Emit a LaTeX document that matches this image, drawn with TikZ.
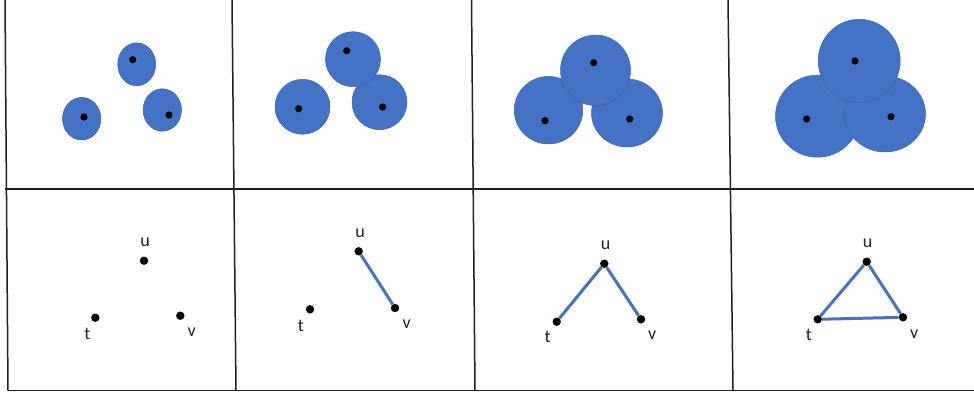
\documentclass[tikz,border=0pt]{standalone}
\usepackage{fontspec}
\setmainfont{Carlito}
\usetikzlibrary{shapes.geometric}
\definecolor{blob}{HTML}{4472C4}
\definecolor{blobedge}{HTML}{3A62AA}
\definecolor{gridc}{HTML}{1E1E1E}
\tikzset{
  disc/.style={ellipse, fill=blob, draw=blobedge, line width=0.5pt, inner sep=0pt},
  sdot/.style={circle, fill=black, inner sep=0pt, minimum size=7.2pt},
  gdot/.style={circle, fill=black, inner sep=0pt, minimum size=8.4pt},
  lbl/.style={font=\fontsize{18}{20}\selectfont, text=black!88, inner sep=0pt},
  gedge/.style={draw=blob, line width=3pt},
  gridline/.style={draw=gridc, line width=1.5pt}
}
\begin{document}
\begin{tikzpicture}[x=1pt,y=-1pt]
\useasboundingbox (0,0) rectangle (974,393);
% grid
\coordinate (v1a) at (5,0);     \coordinate (v1b) at (8,390.5);
\coordinate (v2a) at (232,0);   \coordinate (v2b) at (236,390.5);
\coordinate (v3a) at (471.5,0); \coordinate (v3b) at (475,390.5);
\coordinate (v4a) at (728,0);   \coordinate (v4b) at (733,390.5);
\coordinate (h1a) at (5,189);   \coordinate (h1b) at (974,189);
\coordinate (h2a) at (8,390.5); \coordinate (h2b) at (974,390.5);
\draw[gridline] (v1a) -- (v1b);
\draw[gridline] (v2a) -- (v2b);
\draw[gridline] (v3a) -- (v3b);
\draw[gridline] (v4a) -- (v4b);
\draw[gridline] (h1a) -- (h1b);
\draw[gridline] (h2a) -- (h2b);

% panel 1 top
\node[disc, minimum width=38pt, minimum height=43pt] (p1a) at (136.7,64.3) {};
\node[disc, minimum width=38.4pt, minimum height=42.6pt] (p1b) at (81.7,118.7) {};
\node[disc, minimum width=38.4pt, minimum height=42.4pt] (p1c) at (162.3,110) {};
\node[sdot] (d1a) at (132.7,59.7) {};
\node[sdot] (d1b) at (84,117) {};
\node[sdot] (d1c) at (169,115) {};

% panel 2 top
\node[disc, minimum width=55pt, minimum height=55pt] (p2b) at (302.5,106.8) {};
\node[disc, minimum width=55pt, minimum height=55pt] (p2c) at (379.5,102.2) {};
\node[disc, minimum width=55pt, minimum height=55pt] (p2a) at (353,59.2) {};
\node[sdot] (d2a) at (346.7,50.7) {};
\node[sdot] (d2b) at (298.7,108.7) {};
\node[sdot] (d2c) at (382.7,107) {};

% panel 3 top
\node[disc, minimum width=68.5pt, minimum height=67.5pt] (p3b) at (548.5,110.2) {};
\node[disc, minimum width=71pt, minimum height=68pt] (p3c) at (627,113) {};
\node[disc, minimum width=70pt, minimum height=70.5pt] (p3a) at (595.5,70.3) {};
\node[sdot] (d3a) at (593.7,62.7) {};
\node[sdot] (d3b) at (545,120.7) {};
\node[sdot] (d3c) at (629.7,119) {};

% panel 4 top
\node[disc, minimum width=84pt, minimum height=82pt] (p4b) at (817.5,116.2) {};
\node[disc, minimum width=81pt, minimum height=76pt] (p4c) at (885,114) {};
\node[disc, minimum width=82pt, minimum height=83pt] (p4a) at (859.2,60.8) {};
\node[sdot] (d4a) at (855,61) {};
\node[sdot] (d4b) at (806.7,119) {};
\node[sdot] (d4c) at (891,116.7) {};

% panel 1 bottom
\node[gdot] (u1) at (144,260.7) {};
\node[gdot] (t1) at (95.3,317.7) {};
\node[gdot] (w1) at (180.3,315.7) {};
\node[lbl] (lu1) at (145,242.3) {u};
\node[lbl] (lt1) at (87.3,334.3) {t};
\node[lbl] (lv1) at (191.7,332.3) {v};

% panel 2 bottom
\node[gdot] (u2) at (358.7,251.3) {};
\node[gdot] (t2) at (310,309.3) {};
\node[gdot] (w2) at (395,308) {};
\node[lbl] (lu2) at (360,233.3) {u};
\node[lbl] (lt2) at (301,325.7) {t};
\node[lbl] (lv2) at (406.7,324) {v};
\draw[gedge] (u2) -- (w2);

% panel 3 bottom
\node[gdot] (u3) at (604.3,263.7) {};
\node[gdot] (t3) at (556.7,321.7) {};
\node[gdot] (w3) at (641,319.3) {};
\node[lbl] (lu3) at (605.7,245) {u};
\node[lbl] (lt3) at (547.7,337.3) {t};
\node[lbl] (lv3) at (652.3,335.3) {v};
\draw[gedge] (t3) -- (u3);
\draw[gedge] (u3) -- (w3);

% panel 4 bottom
\node[gdot] (u4) at (866.7,261.7) {};
\node[gdot] (t4) at (817.7,319.3) {};
\node[gdot] (w4) at (903,317.3) {};
\node[lbl] (lu4) at (867.7,243.3) {u};
\node[lbl] (lt4) at (809,335.3) {t};
\node[lbl] (lv4) at (914.3,333.7) {v};
\draw[gedge] (t4) -- (u4);
\draw[gedge] (u4) -- (w4);
\draw[gedge] (t4) -- (w4);
\end{tikzpicture}
\end{document}
